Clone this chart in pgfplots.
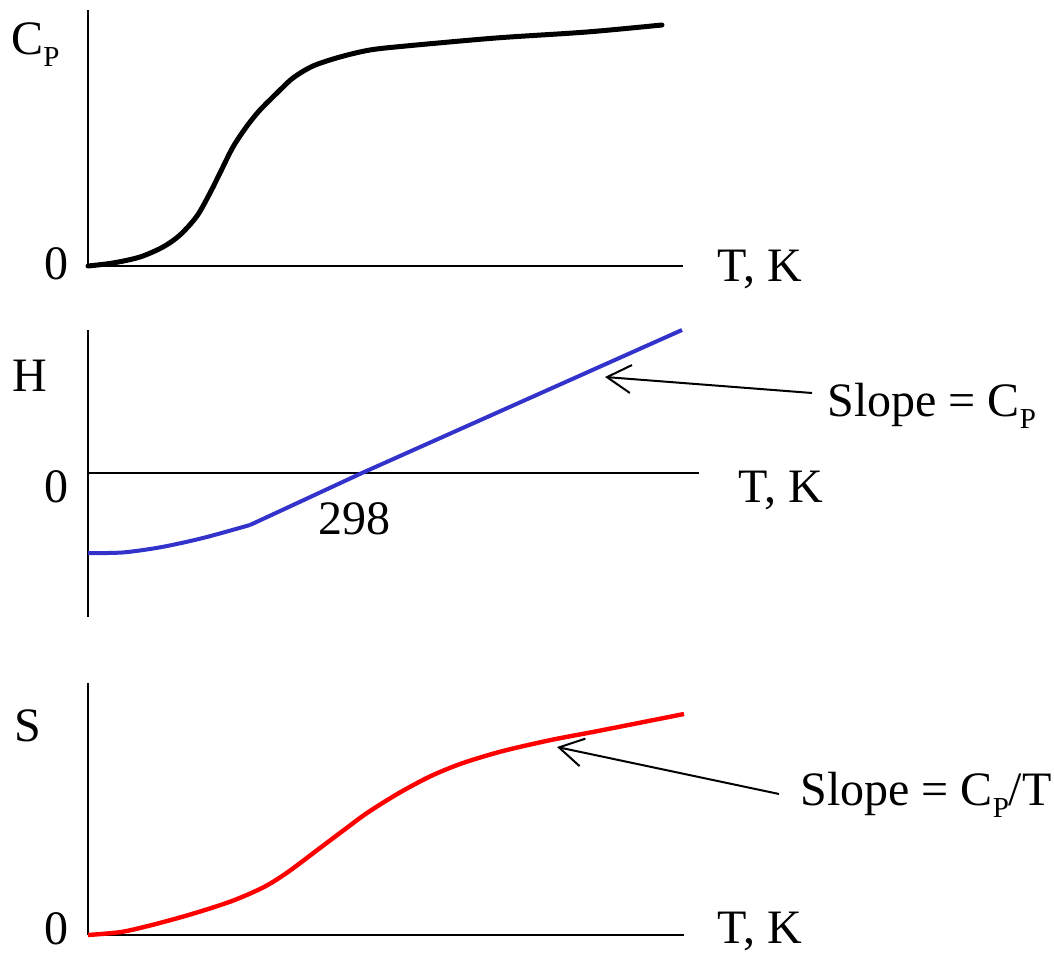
\documentclass[border=0pt]{standalone}
\usepackage{pgfplots}
\pgfplotsset{compat=1.18}
\usepackage{fontspec}
\setmainfont{Liberation Serif}
\usetikzlibrary{arrows.meta}
\newcommand{\sub}[1]{\raisebox{-6pt}{\fontsize{14.5}{15}\selectfont #1}}
\definecolor{hblue}{RGB}{51,51,204}
\definecolor{sred}{RGB}{255,0,0}
\begin{document}
\begin{tikzpicture}[every node/.style={font=\rmfamily\fontsize{24}{29}\selectfont, inner sep=0pt}]
\useasboundingbox (0,0) rectangle (527pt,476.5pt);
\pgfplotsset{panel/.style={x=0.5pt,y=0.5pt,anchor=origin,xtick=\empty,ytick=\empty,
  axis line style={-,line width=1.1pt,black},clip=false}}
% ---- Cp panel
\begin{axis}[panel, at={(44pt,343.5pt)}, axis lines*=left, xmin=0,xmax=595,ymin=0,ymax=256]
\addplot[black,line width=2.5pt,smooth,line cap=round] coordinates {
(0,0) (25,3) (52,9) (75,19) (92,31) (109,50) (122,73) (132,93) (145,119) (159,140)
(172,156) (189,173) (205,188) (225,200) (252,209) (282,216) (318,220) (408,228)
(499,234) (574,241)};
\node[anchor=base west] at (axis cs:-77,211) {C\sub{P}};
\node[anchor=base west] at (axis cs:-44,-14) {0};
\node[anchor=base west] at (axis cs:629,-16) {T, K};
\end{axis}
% ---- H panel
\begin{axis}[panel, at={(44pt,240pt)}, axis lines*=middle, xmin=0,xmax=611,ymin=-144,ymax=143]
\addplot[hblue,line width=2pt,smooth] coordinates {
(0,-80) (20,-80) (40,-79) (74,-74) (115,-65) (162,-52)};
\addplot[hblue,line width=2pt] coordinates {(162,-52) (274,0) (594,143)};
\node[anchor=base west] at (axis cs:-76,81) {H};
\node[anchor=base west] at (axis cs:-44,-30) {0};
\node[anchor=base west] at (axis cs:650,-30) {T, K};
\node[anchor=base west] at (axis cs:230,-62) {298};
\node[anchor=base west] at (axis cs:739,56) {Slope = C\sub{P}};
\draw[line width=1pt,-{Straight Barb[length=12pt,width=14pt]}] (axis cs:724,80) -- (axis cs:517,96);
\end{axis}
% ---- S panel
\begin{axis}[panel, at={(44pt,9pt)}, axis lines*=left, xmin=0,xmax=596,ymin=0,ymax=252]
\addplot[sred,line width=2.2pt,smooth] coordinates {
(0,0) (33,3) (64,10) (104,21) (144,34) (176,48) (200,63) (232,87) (256,105) (279,122)
(311,142) (343,159) (375,172) (415,184) (463,195) (510,204) (596,221)};
\node[anchor=base west] at (axis cs:-74,193) {S};
\node[anchor=base west] at (axis cs:-44,-9) {0};
\node[anchor=base west] at (axis cs:629,-8) {T, K};
\node[anchor=base west] at (axis cs:712,129) {Slope = C\sub{P}/T};
\draw[line width=1pt,-{Straight Barb[length=12pt,width=14pt]}] (axis cs:691,141) -- (axis cs:469,188);
\end{axis}
\end{tikzpicture}
\end{document}
